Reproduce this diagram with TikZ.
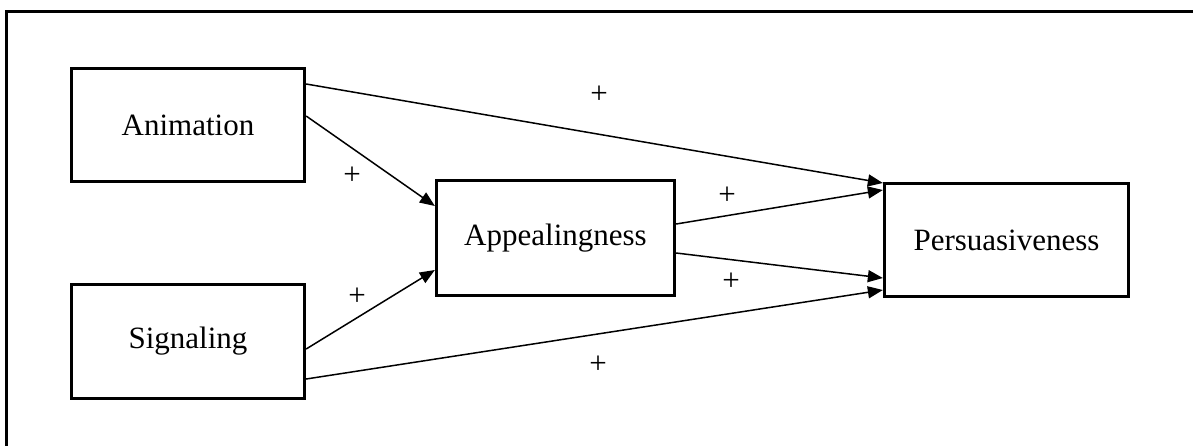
\documentclass[tikz,border=0pt]{standalone}
\usepackage{fontspec}
\setmainfont{Liberation Serif}
\usetikzlibrary{arrows.meta}
\begin{document}
\begin{tikzpicture}[x=1pt,y=-1pt,
  box/.style={draw,line width=3.3pt,inner sep=0pt,font=\fontsize{31}{36}\selectfont},
  link/.style={line width=1.5pt,-{Triangle[length=15pt,width=12pt]}},
  sign/.style={font=\fontsize{31}{34}\selectfont,inner sep=0pt}]
\useasboundingbox (0,0) rectangle (1193,445);
\draw[line width=3pt] (6,446) -- (6,11) -- (1194,11);
\node[box,minimum width=233pt,minimum height=113pt] (anim) at (188,125) {Animation};
\node[box,minimum width=233pt,minimum height=114pt] (sig) at (188,341.5) {Signaling};
\node[box,minimum width=238pt,minimum height=115pt] (app) at (555.5,238) {Appealingness};
\node[box,minimum width=244pt,minimum height=113pt] (pers) at (1006.5,240) {Persuasiveness};
\draw[link] ([yshift=41pt]anim.east) -- ([yshift=57pt]pers.west);
\draw[link] ([yshift=9pt]anim.east) -- ([yshift=32pt]app.west);
\draw[link] ([yshift=-7.5pt]sig.east) -- ([yshift=-32pt]app.west);
\draw[link] ([yshift=-37.5pt]sig.east) -- ([yshift=-50pt]pers.west);
\draw[link] ([yshift=14pt]app.east) -- ([yshift=50pt]pers.west);
\draw[link] ([yshift=-15pt]app.east) -- ([yshift=-38pt]pers.west);
\node[sign] (p1) at (599,95) {+};
\node[sign] (p2) at (352,176) {+};
\node[sign] (p3) at (727,196) {+};
\node[sign] (p4) at (357,297) {+};
\node[sign] (p5) at (731,282) {+};
\node[sign] (p6) at (598,365) {+};
\end{tikzpicture}
\end{document}
